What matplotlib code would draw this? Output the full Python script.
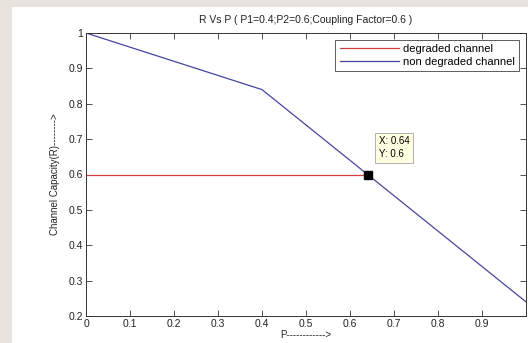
import matplotlib.pyplot as plt
from matplotlib.patches import Rectangle

plt.rcParams['font.family'] = ['Liberation Sans', 'DejaVu Sans']

# data
p_vals = [0.0, 0.1, 0.2, 0.3, 0.4, 0.5, 0.6, 0.64, 0.7, 0.8, 0.9, 1.0]
r_nondeg = [1.0, 0.96, 0.92, 0.88, 0.84, 0.74, 0.64, 0.60, 0.54, 0.44, 0.34, 0.24]
p_deg = [0.0, 0.64]
r_deg = [0.6, 0.6]
tip_x, tip_y = 0.64, 0.6
xticks = [0, 0.1, 0.2, 0.3, 0.4, 0.5, 0.6, 0.7, 0.8, 0.9]
yticks = [0.2, 0.3, 0.4, 0.5, 0.6, 0.7, 0.8, 0.9, 1]

fig = plt.figure(figsize=(5.28, 3.43), dpi=100, facecolor='#e9e3dd')
# white figure area (screenshot border around it)
fig.patches.append(Rectangle((12 / 528, 0), 1, 1 - 7 / 343, transform=fig.transFigure,
                             facecolor='white', edgecolor='none', zorder=-10))

ax = fig.add_axes([86 / 528, 1 - 316 / 343, 440 / 528, 283 / 343])
ax.plot(p_deg, r_deg, color='#d04040', lw=0.9, label='degraded channel')
ax.plot(p_vals, r_nondeg, color='#4545a0', lw=0.9, label='non degraded channel')
ax.plot([tip_x], [tip_y], marker='s', ms=6, color='black', zorder=5)

ax.annotate('X: %g\nY: %g' % (tip_x, tip_y), xy=(tip_x, tip_y), xytext=(8, 11),
            textcoords='offset points', fontsize=7, va='bottom', ha='left',
            linespacing=1.35,
            bbox=dict(boxstyle='square,pad=0.4', fc='#ffffe1', ec='#b0b0b0', lw=0.7))

ax.set_xlim(0, 1)
ax.set_ylim(0.2, 1)
ax.set_xticks(xticks)
ax.set_xticklabels(['0'] + ['%g' % t for t in xticks[1:]])
ax.set_yticks(yticks)
ax.set_yticklabels(['%g' % t for t in yticks])
ax.tick_params(direction='in', length=4, width=0.6, labelsize=7.5, pad=2,
               top=True, right=True, colors='#333333', labelcolor='#222222')
for s in ax.spines.values():
    s.set_linewidth(0.7)
    s.set_color('#333333')

ax.set_title('R Vs P ( P1=0.4;P2=0.6;Coupling Factor=0.6 )', fontsize=7.5, pad=7, color='#222222')
ax.set_xlabel('P------------>', fontsize=7, labelpad=1, color='#222222')
ax.set_ylabel('Channel Capacity(R)-------->', fontsize=7, labelpad=6, color='#222222')

leg = ax.legend(loc='upper right', fontsize=8, frameon=True, fancybox=False,
                handlelength=5.3, handletextpad=0.4, borderpad=0.4, labelspacing=0.25,
                borderaxespad=0.6)
leg.get_frame().set_edgecolor('#333333')
leg.get_frame().set_linewidth(0.7)

fig.savefig('out.png', dpi=100, facecolor=fig.get_facecolor())
